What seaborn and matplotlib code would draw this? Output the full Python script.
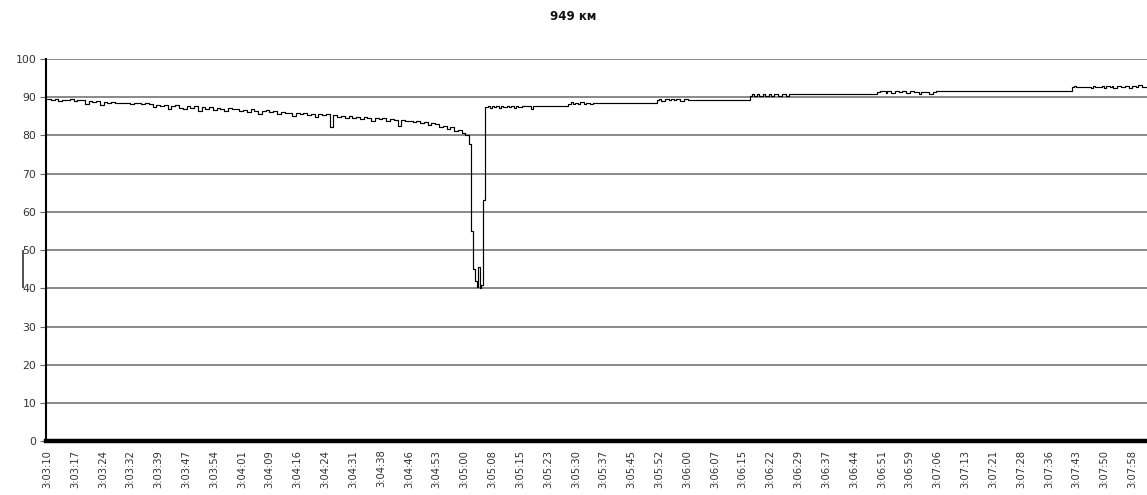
import numpy as np
import pandas as pd
import matplotlib
matplotlib.use("Agg")
import matplotlib.pyplot as plt
import matplotlib.transforms as mtransforms
import seaborn as sns

# ---------------- data ----------------
title_text = "949 км"

tick_labels = ["3:03:10", "3:03:17", "3:03:24", "3:03:32", "3:03:39", "3:03:47", "3:03:54",
               "3:04:01", "3:04:09", "3:04:16", "3:04:24", "3:04:31", "3:04:38", "3:04:46",
               "3:04:53", "3:05:00", "3:05:08", "3:05:15", "3:05:23", "3:05:30", "3:05:37",
               "3:05:45", "3:05:52", "3:06:00", "3:06:07", "3:06:15", "3:06:22", "3:06:29",
               "3:06:37", "3:06:44", "3:06:51", "3:06:59", "3:07:06", "3:07:13", "3:07:21",
               "3:07:28", "3:07:36", "3:07:43", "3:07:50", "3:07:58"]
tick_span_s = 288  # seconds from first to last tick label

# before the dip: one reading per second (t = 0 .. 112 s)
before_values = [89.5, 89.2, 89.5, 89.0, 89.4, 89.3, 89.6, 89.1, 89.4, 89.2,
                 88.2, 89.0, 88.8, 89.1, 88.0, 88.7, 88.5, 88.8, 88.4, 88.6,
                 88.5, 88.6, 88.3, 88.5, 88.4, 88.2, 88.5, 88.3, 87.4, 88.1,
                 87.6, 87.9, 86.8, 87.7, 88.1, 87.3, 86.9, 87.6, 87.2, 87.8,
                 86.5, 87.4, 87.0, 87.5, 86.6, 87.2, 87.0, 86.3, 87.1, 86.8,
                 86.9, 86.4, 86.7, 86.2, 86.8, 86.5, 85.6, 86.4, 86.6, 86.1,
                 86.3, 85.5, 86.2, 85.9, 86.0, 85.2, 85.9, 85.6, 85.8, 85.4,
                 85.7, 84.8, 85.6, 85.3, 85.5, 82.2, 85.4, 84.9, 85.2, 84.7,
                 85.0, 84.5, 84.9, 84.3, 84.8, 84.6, 83.9, 84.5, 84.2, 84.6,
                 83.8, 84.3, 84.0, 82.6, 84.1, 83.7, 83.9, 83.4, 83.8, 83.2,
                 83.5, 82.8, 83.2, 82.9, 82.2, 82.6, 81.8, 82.1, 81.3, 81.5,
                 80.6, 80.0, 77.8]
before_times = list(range(len(before_values)))

# the dip and recovery
dip_times = [112.5, 113.0, 113.5, 114.0, 114.4, 114.8, 115.2, 115.6]
dip_values = [55.0, 45.0, 42.0, 40.5, 45.5, 40.0, 41.0, 63.0]

# after the recovery
after_times = [116.2, 117, 117.5, 118, 118.5, 119, 120, 120.5, 121, 122, 122.5, 123, 124, 124.5,
               125, 126, 128.5, 129,
               138.2, 139, 139.5, 140, 141, 141.5, 142.5, 143, 144, 145,
               161.8, 162.5, 163, 164, 165, 165.5, 166.5, 167, 168, 169, 170, 171,
               186.5, 187, 187.5, 188.5, 189, 190, 190.5, 191.5, 192, 193, 194, 195, 196, 197,
               220.2, 221, 222.5, 223, 224, 225, 226, 227, 228, 229, 230, 231.5, 232, 234, 235, 236,
               272.1, 272.5, 273, 277, 277.5, 278, 280, 280.5, 281, 282, 282.5, 283, 284, 285,
               286, 287, 288, 289, 289.5, 290.5, 291.8]
after_values = [87.4, 87.8, 87.3, 87.7, 87.4, 87.8, 87.3, 87.7, 87.4, 87.8, 87.4, 87.7, 87.3, 87.6,
                87.4, 87.6, 86.8, 87.6,
                88.3, 88.7, 88.2, 88.6, 88.2, 88.7, 88.3, 88.6, 88.2, 88.5,
                89.2, 89.6, 89.1, 89.5, 89.2, 89.6, 89.2, 89.5, 89.1, 89.5, 89.2, 89.4,
                90.4, 90.9, 90.3, 90.8, 90.3, 90.9, 90.4, 90.8, 90.3, 90.8, 90.4, 90.8, 90.4, 90.8,
                91.3, 91.7, 91.2, 91.6, 91.2, 91.7, 91.3, 91.6, 91.2, 91.6, 91.3, 90.8, 91.5, 90.9, 91.5, 91.7,
                92.6, 93.0, 92.7, 92.5, 93.0, 92.6, 92.9, 92.5, 93.0, 92.6, 93.0, 92.5, 92.9, 92.6,
                93.0, 92.5, 92.9, 92.6, 93.1, 92.8, 92.8]

df = pd.DataFrame({
    "t": before_times + dip_times + after_times,
    "v": before_values + dip_values + after_values,
})

# ---------------- plot ----------------
sns.set_style("white")
plt.rcParams["font.family"] = ["DejaVu Sans"]

W, H = 1147, 495
fig = plt.figure(figsize=(W / 100, H / 100), dpi=100)
ax = fig.add_axes([46 / W, 1 - 441.4 / H, (W - 46) / W, (441.4 - 59) / H])

sns.lineplot(data=df, x="t", y="v", ax=ax, estimator=None, sort=False,
             color="black", linewidth=0.85, drawstyle="steps-post")

ax.set_xlim(-0.3, 291.9)
ax.set_ylim(0, 100)
ax.set_yticks(np.arange(0, 101, 10))
ax.set_yticklabels([str(v) for v in range(0, 101, 10)], fontsize=7.8, color="#333333")
tick_pos = np.linspace(0, tick_span_s, len(tick_labels))
ax.set_xticks(tick_pos)
ax.set_xticklabels(tick_labels, rotation=90, fontsize=7.2, color="#333333")
ax.tick_params(axis="x", length=0, pad=6)
ax.tick_params(axis="y", length=4, width=0.8, color="#666666", pad=3, direction="out", left=True)

ax.grid(axis="y", color="#757575", linewidth=1.2)
ax.grid(axis="x", visible=False)
ax.set_axisbelow(True)
for s in ["top", "right"]:
    ax.spines[s].set_visible(False)
ax.spines["left"].set_color("black")
ax.spines["left"].set_linewidth(1.5)
ax.spines["bottom"].set_color("black")
ax.spines["bottom"].set_linewidth(3.2)
ax.set_xlabel("")
ax.set_ylabel("")

fig.text(0.5, 1 - 16 / H, title_text, ha="center", va="center",
         fontsize=8.5, fontweight="bold", color="#111111")

# stray marker to the left of the axis (as in the original image)
trans = mtransforms.blended_transform_factory(fig.transFigure, ax.transData)
ax.plot([23 / W, 23 / W], [40, 50], transform=trans, color="#333333", linewidth=1.2,
        clip_on=False, solid_capstyle="butt")

fig.savefig("out.png", dpi=100)
